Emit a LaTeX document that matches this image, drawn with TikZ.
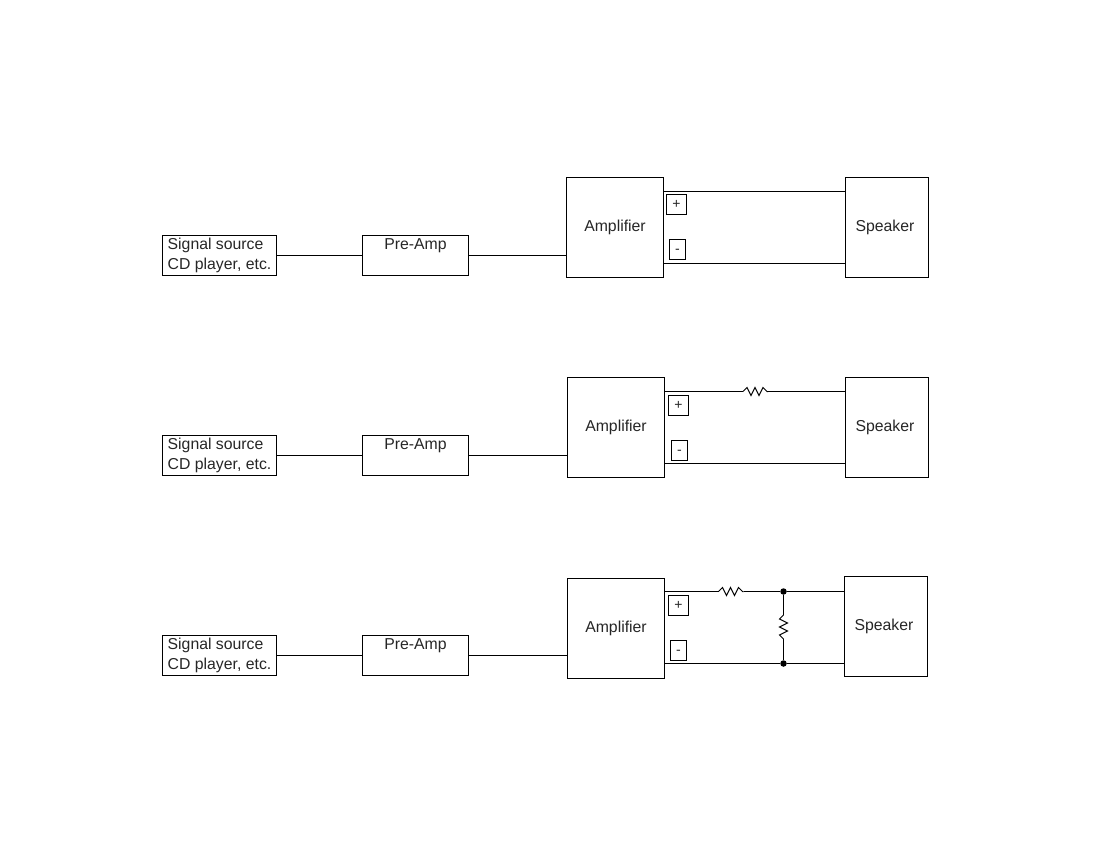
\documentclass[tikz,border=0pt]{standalone}
\usepackage{fontspec}
\setmainfont{Liberation Sans}
\newcommand{\reshoriz}[1]{\draw[wire] (#1.west) -- ++(4,-4) -- ++(4,8) -- ++(4,-8) -- ++(4,8) -- ++(4,-8) -- ++(4,4) -- (#1.east);}
\newcommand{\resvert}[1]{\draw[wire] (#1.north) -- ++(-4,4) -- ++(8,4) -- ++(-8,4) -- ++(8,4) -- ++(-8,4) -- ++(4,4) -- (#1.south);}
\newcommand{\pretext}{\vphantom{Signal source}Pre-Amp\\\vphantom{CD player, etc.}}
\tikzset{
  wire/.style={draw=black,line width=1pt,line join=miter},
  box/.style={draw=black,line width=1pt,rectangle,inner sep=0pt,outer sep=0pt,font=\fontsize{15.8}{20}\selectfont,text=black!85},
  srcbox/.style={box,minimum width=114,minimum height=40,align=left},
  prebox/.style={box,minimum width=106,minimum height=40,align=center},
  ampbox/.style={box,minimum width=97,minimum height=100},
  spkbox/.style={box,minimum width=83,minimum height=100,text width=83,align=center},
  plusbox/.style={box,minimum width=20,minimum height=20,text height=11pt,text depth=3pt,font=\fontsize{14}{14}\selectfont},
  minusbox/.style={box,minimum width=16,minimum height=20,text height=10.4pt,text depth=3pt,font=\fontsize{14}{14}\selectfont},
  resh/.style={rectangle,inner sep=0pt,outer sep=0pt,minimum width=25,minimum height=8},
  resv/.style={rectangle,inner sep=0pt,outer sep=0pt,minimum width=8,minimum height=24},
  junction/.style={circle,fill=black,inner sep=0pt,outer sep=0pt,minimum size=6.5}
}
\newcommand{\spktext}{\hspace*{-4pt}Speaker}
\begin{document}
\begin{tikzpicture}[x=1pt,y=-1pt]
\useasboundingbox (0,0) rectangle (1100,850);
% Row 1
\node[srcbox] (src1) at (219.5,255.5) {Signal source\\CD player, etc.};
\node[prebox] (pre1) at (415.5,255.5) {\pretext};
\node[ampbox] (amp1) at (615,227.5) {Amplifier};
\node[spkbox] (spk1) at (887,227.5) {\spktext};
\node[plusbox] (plus1) at (676.5,204.5) {+};
\node[minusbox] (minus1) at (677.5,249.5) {-};
\draw[wire] (src1.east |- 0,255.5) -- (pre1.west |- 0,255.5);
\draw[wire] (pre1.east |- 0,255.5) -- (amp1.west |- 0,255.5);
\draw[wire] (amp1.east |- 0,191.5) -- (spk1.west |- 0,191.5);
\draw[wire] (amp1.east |- 0,263.5) -- (spk1.west |- 0,263.5);
% Row 2
\node[srcbox] (src2) at (219.5,455.5) {Signal source\\CD player, etc.};
\node[prebox] (pre2) at (415.5,455.5) {\pretext};
\node[ampbox] (amp2) at (616,427.5) {Amplifier};
\node[spkbox] (spk2) at (887,427.5) {\spktext};
\node[plusbox] (plus2) at (678.5,405.5) {+};
\node[minusbox] (minus2) at (679.5,450.5) {-};
\node[resh] (res2) at (755.5,391.5) {};
\draw[wire] (src2.east |- 0,455.5) -- (pre2.west |- 0,455.5);
\draw[wire] (pre2.east |- 0,455.5) -- (amp2.west |- 0,455.5);
\draw[wire] (amp2.east |- 0,391.5) -- (res2.west);
\draw[wire] (res2.east) -- (spk2.west |- 0,391.5);
\reshoriz{res2}
\draw[wire] (amp2.east |- 0,463.5) -- (spk2.west |- 0,463.5);
% Row 3
\node[srcbox] (src3) at (219.5,655.5) {Signal source\\CD player, etc.};
\node[prebox] (pre3) at (415.5,655.5) {\pretext};
\node[ampbox] (amp3) at (616,628.5) {Amplifier};
\node[spkbox] (spk3) at (886,626.5) {\spktext};
\node[plusbox] (plus3) at (678.5,605.5) {+};
\node[minusbox] (minus3) at (678.5,650.5) {-};
\node[resh] (res3) at (731,591.5) {};
\node[junction] (jtop) at (783.5,591.5) {};
\node[junction] (jbot) at (783.5,663.5) {};
\node[resv] (res4) at (783.5,627) {};
\draw[wire] (src3.east |- 0,655.5) -- (pre3.west |- 0,655.5);
\draw[wire] (pre3.east |- 0,655.5) -- (amp3.west |- 0,655.5);
\draw[wire] (amp3.east |- 0,591.5) -- (res3.west);
\draw[wire] (res3.east) -- (jtop);
\reshoriz{res3}
\draw[wire] (jtop) -- (spk3.west |- 0,591.5);
\draw[wire] (amp3.east |- 0,663.5) -- (jbot);
\draw[wire] (jbot) -- (spk3.west |- 0,663.5);
\draw[wire] (jtop) -- (res4.north);
\resvert{res4}
\draw[wire] (res4.south) -- (jbot);
\end{tikzpicture}
\end{document}
